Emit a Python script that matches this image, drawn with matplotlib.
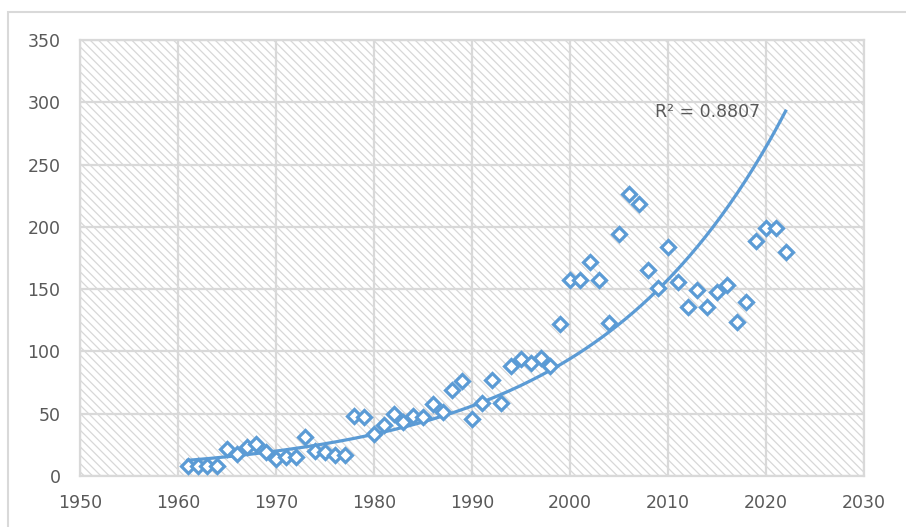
import numpy as np
import matplotlib
matplotlib.use("Agg")
import matplotlib.pyplot as plt
from matplotlib.patches import Rectangle

# yearly values
years = np.arange(1961, 2023)
values = [8, 8, 8, 8, 22, 18, 23, 26, 19, 14,
          15, 15, 31, 20, 19, 17, 17, 48, 47, 34,
          41, 50, 43, 48, 47, 58, 51, 69, 76, 46,
          59, 77, 59, 88, 94, 91, 95, 88, 122, 157,
          157, 172, 157, 123, 194, 226, 218, 165, 151, 184,
          156, 136, 149, 136, 148, 153, 124, 140, 189, 199,
          199, 180]
r2_label = "R² = 0.8807"

x_ticks = np.arange(1950, 2031, 10)
y_ticks = np.arange(0, 351, 50)

blue = '#5B9BD5'
grid_c = '#d9d9d9'
text_c = '#595959'

W, H = 906, 527
fig = plt.figure(figsize=(W / 100, H / 100), dpi=100)

# outer chart border (only top/left visible in the crop)
fig.patches.append(Rectangle((8 / W, -0.1), 1.2, (H - 12) / H + 0.1,
                             transform=fig.transFigure, fill=False,
                             edgecolor=grid_c, linewidth=1.5))

ax = fig.add_axes([80 / W, (H - 476) / H, (864 - 80) / W, (476 - 40) / H])

plt.rcParams['hatch.linewidth'] = 0.9
ax.add_patch(Rectangle((0, 0), 1, 1, transform=ax.transAxes, facecolor='white',
                       edgecolor='#d8d8d8', hatch='\\\\\\\\', linewidth=0, zorder=0))

ax.set_xlim(1950, 2030)
ax.set_ylim(0, 350)
ax.set_xticks(x_ticks)
ax.set_yticks(y_ticks)
ax.grid(True, color=grid_c, linewidth=1.6, zorder=1)
ax.set_axisbelow(True)
for s in ax.spines.values():
    s.set_color(grid_c)
    s.set_linewidth(1.6)
ax.tick_params(length=0, labelsize=12.5, labelcolor=text_c, pad=14)
ax.tick_params(axis='x', pad=13)

# exponential trendline (fit on log values, as Excel does)
b, lna = np.polyfit(years, np.log(values), 1)
xt = np.linspace(years[0], years[-1], 300)
ax.plot(xt, np.exp(lna) * np.exp(b * xt), color=blue, linewidth=2.3, zorder=3)

ax.plot(years, values, linestyle='none', marker='D', markersize=7,
        markerfacecolor='white', markeredgecolor=blue, markeredgewidth=2.3,
        zorder=4)

ax.text(2014, 292, r2_label, fontsize=12.5, color=text_c, ha='center',
        va='center')

fig.savefig('out.png', dpi=100)
